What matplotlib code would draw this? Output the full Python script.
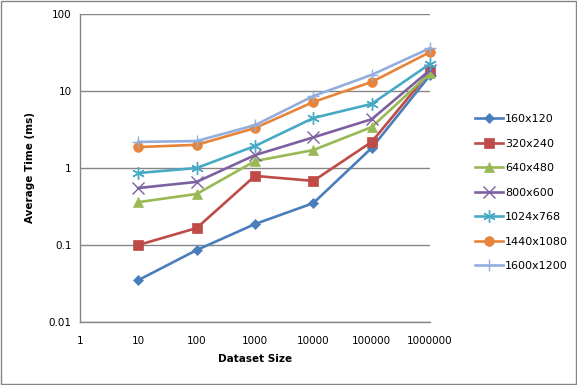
import numpy as np
import matplotlib.pyplot as plt
from matplotlib.ticker import FixedLocator, FuncFormatter, NullLocator

sizes = [10, 100, 1000, 10000, 100000, 1000000]
labels = ['160x120', '320x240', '640x480', '800x600', '1024x768', '1440x1080', '1600x1200']
times = [
    [0.035, 0.086, 0.187, 0.35, 1.82, 16.0],
    [0.10, 0.166, 0.79, 0.68, 2.18, 18.0],
    [0.36, 0.46, 1.23, 1.71, 3.4, 17.0],
    [0.55, 0.66, 1.47, 2.5, 4.3, 18.7],
    [0.86, 1.0, 1.93, 4.46, 6.8, 22.5],
    [1.87, 2.0, 3.3, 7.2, 13.1, 32.0],
    [2.18, 2.24, 3.6, 8.6, 16.2, 36.0],
]
colors = ['#4A7EBB', '#BE4B48', '#98B954', '#7D60A0', '#46AAC5', '#E8843A', '#93AEDC']
markers = ['D', 's', '^', 'x', (6, 2, 0), 'o', '+']
msizes = [5, 7, 7, 8, 9, 7, 9]

fig = plt.figure(figsize=(5.77, 3.85), dpi=100)
ax = fig.add_axes([80 / 577, 1 - 322 / 385, 350 / 577, 308 / 385])

for lab, vals, c, m, ms in zip(labels, times, colors, markers, msizes):
    thin = m in ('x', '+') or isinstance(m, tuple)
    ax.plot(sizes, vals, color=c, lw=1.9, marker=m, ms=ms, mew=1.0 if thin else 0.5,
            mec=c, mfc=c, label=lab, clip_on=False, zorder=3)

ax.set_xscale('log')
ax.set_yscale('log')
ax.set_xlim(1, 1000000)
ax.set_ylim(0.01, 100)
ax.xaxis.set_major_locator(FixedLocator([10 ** i for i in range(7)]))
ax.yaxis.set_major_locator(FixedLocator([0.01, 0.1, 1, 10, 100]))
ax.xaxis.set_minor_locator(NullLocator())
ax.yaxis.set_minor_locator(NullLocator())
ax.xaxis.set_major_formatter(FuncFormatter(lambda v, p: '%d' % round(v)))
ax.yaxis.set_major_formatter(FuncFormatter(lambda v, p: ('%g' % v)))
ax.tick_params(labelsize=7.5, length=0, pad=6, colors='black')
ax.tick_params(axis='x', pad=10)
ax.grid(axis='y', color='#868686', lw=1)
ax.set_axisbelow(True)
for s in ['top', 'right']:
    ax.spines[s].set_visible(False)
for s in ['left', 'bottom']:
    ax.spines[s].set_color('#868686')
    ax.spines[s].set_linewidth(1)

ax.set_xlabel('Dataset Size', fontsize=7.5, fontweight='bold', labelpad=6)
ax.set_ylabel('Average Time (ms)', fontsize=7.5, fontweight='bold', labelpad=10)

ax.legend(loc='center left', bbox_to_anchor=(1.10, 0.42), frameon=False, fontsize=8,
          labelspacing=1.3, handlelength=2.5, handletextpad=0.2)

fig.patches.append(plt.Rectangle((0.001, 0.002), 0.997, 0.995, transform=fig.transFigure,
                                 fill=False, edgecolor='#868686', lw=1))

fig.savefig('out.png', dpi=100)
